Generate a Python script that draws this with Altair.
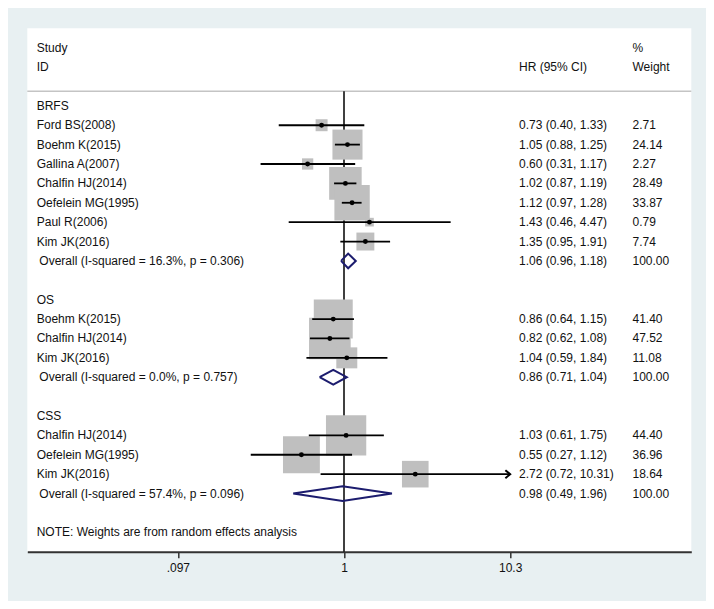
import altair as alt
import pandas as pd

# ---------------- data ----------------
GROUPS = ["BRFS", "OS", "CSS"]

STUDY = ["Ford BS(2008)", "Boehm K(2015)", "Gallina A(2007)", "Chalfin HJ(2014)",
         "Oefelein MG(1995)", "Paul R(2006)", "Kim JK(2016)",
         "Boehm K(2015)", "Chalfin HJ(2014)", "Kim JK(2016)",
         "Chalfin HJ(2014)", "Oefelein MG(1995)", "Kim JK(2016)"]
GROUP = ["BRFS"] * 7 + ["OS"] * 3 + ["CSS"] * 3
HR = [0.73, 1.05, 0.60, 1.02, 1.12, 1.43, 1.35, 0.86, 0.82, 1.04, 1.03, 0.55, 2.72]
LO = [0.40, 0.88, 0.31, 0.87, 0.97, 0.46, 0.95, 0.64, 0.62, 0.59, 0.61, 0.27, 0.72]
HI = [1.33, 1.25, 1.17, 1.19, 1.28, 4.47, 1.91, 1.15, 1.08, 1.84, 1.75, 1.12, 10.31]
WEIGHT = [2.71, 24.14, 2.27, 28.49, 33.87, 0.79, 7.74, 41.40, 47.52, 11.08, 44.40, 36.96, 18.64]

OV_LABEL = ["Overall (I-squared = 16.3%, p = 0.306)",
            "Overall (I-squared = 0.0%, p = 0.757)",
            "Overall (I-squared = 57.4%, p = 0.096)"]
OV_HR = [1.06, 0.86, 0.98]
OV_LO = [0.96, 0.71, 0.49]
OV_HI = [1.18, 1.04, 1.96]
OV_WEIGHT = [100.00, 100.00, 100.00]

TICK_VALUES = [0.097, 1, 10.31]
TICK_LABELS = [".097", "1", "10.3"]
NOTE = "NOTE: Weights are from random effects analysis"

# ---------------- layout ----------------
W, H = 664, 523.4
PAD_L, PAD_T = 19.3, 20.3
TOTAL_W, TOTAL_H = 698, 593
PX_PER_DEC = 164.0
X_AT_ONE = 316.7
XMIN = 10 ** (-X_AT_ONE / PX_PER_DEC)
XMAX = 10 ** ((W - X_AT_ONE) / PX_PER_DEC)

COL_STUDY = 9.4
COL_HR = 491.7
COL_WT = 605.2

TEXT_COLOR = "#111111"
FONT = "Liberation Sans"
FS = 12
NAVY = "#1c1c6e"

# rows
study_rows, ov_rows, head_rows = [], [], []
r = 0
for g in GROUPS:
    head_rows.append(r)
    r += 1
    for gg in GROUP:
        if gg == g:
            study_rows.append(r)
            r += 1
    ov_rows.append(r)
    r += 2
note_row = r

studies = pd.DataFrame({
    "study": STUDY, "group": GROUP, "hr": HR, "lo": LO, "hi": HI,
    "weight": WEIGHT, "row": study_rows,
})
studies["hrtxt"] = [f"{h:.2f} ({l:.2f}, {u:.2f})" for h, l, u in zip(HR, LO, HI)]
studies["wtxt"] = [f"{w:.2f}" for w in WEIGHT]

overall = pd.DataFrame({
    "label": OV_LABEL, "group": GROUPS, "hr": OV_HR, "lo": OV_LO, "hi": OV_HI,
    "weight": OV_WEIGHT, "row": ov_rows,
})
overall["hrtxt"] = [f"{h:.2f} ({l:.2f}, {u:.2f})" for h, l, u in zip(OV_HR, OV_LO, OV_HI)]
overall["wtxt"] = [f"{w:.2f}" for w in OV_WEIGHT]

DH = 0.38
dia = []
for _, o in overall.iterrows():
    pts = [(o.lo, o.row), (o.hr, o.row - DH), (o.hi, o.row), (o.hr, o.row + DH), (o.lo, o.row)]
    for k, (xv, yv) in enumerate(pts):
        dia.append({"group": o.group, "k": k, "x": xv, "y": yv})
dia = pd.DataFrame(dia)

left_text = pd.DataFrame({
    "text": ["Study", "ID"] + GROUPS + STUDY + [NOTE],
    "row": [-3, -2] + head_rows + study_rows + [note_row],
})
right_head = pd.DataFrame({"text": ["HR (95% CI)"], "row": [-2]})
wt_head = pd.DataFrame({"text": ["%", "Weight"], "row": [-3, -2]})

arrows = studies[studies["hi"] >= max(TICK_VALUES)]

label_expr = "''"
for v, lab in zip(reversed(TICK_VALUES), reversed(TICK_LABELS)):
    label_expr = f"abs(datum.value - {v}) < {v * 0.01} ? '{lab}' : " + label_expr

xs = alt.Scale(type="log", domain=[XMIN, XMAX], nice=False)
ys = alt.Scale(domain=[-4, 23], reverse=True, nice=False, zero=False)

x_axis = alt.Axis(values=TICK_VALUES, labelExpr=label_expr, grid=False,
                  domainColor="#333333", domainWidth=2, tickColor="#333333",
                  tickWidth=1.5, tickSize=6, labelPadding=5, labelFont=FONT,
                  labelFontSize=FS, labelColor=TEXT_COLOR, title=None,
                  labelFlush=False, orient="bottom")


def X(field):
    return alt.X(field, scale=xs, axis=x_axis)


def Y(field):
    return alt.Y(field, scale=ys, axis=None)


anchor = pd.DataFrame({"a": [0]})

sep = alt.Chart(anchor).mark_rule(color="#c4c4c4", strokeWidth=1.5).encode(
    x=alt.value(0), x2=alt.value(W), y=Y("sy:Q")
).transform_calculate(sy="-0.75")

ref = alt.Chart(anchor).mark_rule(color="black", strokeWidth=1.5).encode(
    x=X("one:Q"),
    y=Y("top:Q"),
    y2="bottom:Q",
).transform_calculate(one="1", top="-0.75", bottom="23")

squares = alt.Chart(studies).mark_point(shape="square", filled=True, opacity=1,
                                        color="#bfbfbf", strokeWidth=0).encode(
    x=X("hr:Q"),
    y=Y("row:Q"),
    size=alt.Size("weight:Q", scale=alt.Scale(domain=[0, 100], range=[47, 3597], zero=False),
                  legend=None),
)

ci = alt.Chart(studies).mark_rule(color="black", strokeWidth=1.8).encode(
    x=X("lo:Q"),
    x2="hi:Q",
    y=Y("row:Q"),
)

arrow = alt.Chart(arrows).mark_point(shape="M-1.2,-1L0,0L-1.2,1", filled=False,
                                     color="black", strokeWidth=2, size=64, opacity=1).encode(
    x=X("hi:Q"),
    y=Y("row:Q"),
)

dots = alt.Chart(studies).mark_circle(color="black", size=24, opacity=1).encode(
    x=X("hr:Q"),
    y=Y("row:Q"),
)

diamonds = alt.Chart(dia).mark_line(color=NAVY, strokeWidth=2, strokeJoin="miter").encode(
    x=X("x:Q"),
    y=Y("y:Q"),
    detail="group:N",
    order="k:Q",
)


def txt(df, field, xpx, dx=0):
    return alt.Chart(df).mark_text(align="left", baseline="middle", font=FONT,
                                   fontSize=FS, color=TEXT_COLOR, dx=dx).encode(
        x=alt.value(xpx),
        y=Y("row:Q"),
        text=f"{field}:N",
    )


t_left = txt(left_text, "text", COL_STUDY)
t_ov = txt(overall, "label", COL_STUDY, dx=2.6)
t_hrh = txt(right_head, "text", COL_HR)
t_wth = txt(wt_head, "text", COL_WT)
t_hr1 = txt(studies, "hrtxt", COL_HR)
t_hr2 = txt(overall, "hrtxt", COL_HR)
t_w1 = txt(studies, "wtxt", COL_WT)
t_w2 = txt(overall, "wtxt", COL_WT)

chart = alt.layer(
    sep, ref, squares, ci, arrow, dots, diamonds,
    t_left, t_ov, t_hrh, t_wth, t_hr1, t_hr2, t_w1, t_w2,
).resolve_scale(x="shared").properties(
    width=W, height=H, background="#e8f0f2",
    autosize=alt.AutoSizeParams(type="none"),
    padding={"left": PAD_L, "top": PAD_T, "right": TOTAL_W - PAD_L - W,
             "bottom": TOTAL_H - PAD_T - H},
).configure_view(fill="white", strokeWidth=0)

chart.save("out.html", embed_options={"renderer": "svg", "actions": False})
